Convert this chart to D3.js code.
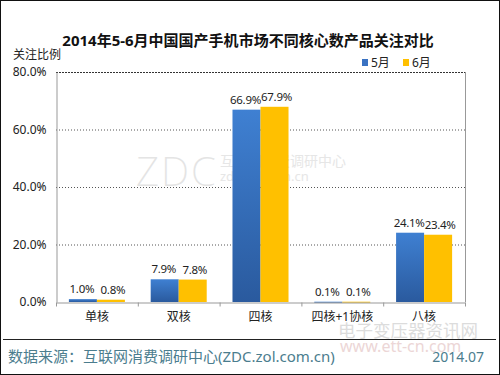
<!DOCTYPE html>
<html lang="zh">
<head>
<meta charset="UTF-8">
<title>2014年5-6月中国国产手机市场不同核心数产品关注对比</title>
<script src="https://d3js.org/d3.v7.min.js"></script>
<style>
  body { margin: 0; background: #fff; }
  svg text { font-family: "Noto Sans", "Noto Sans CJK SC", sans-serif; }
</style>
</head>
<body>
<svg id="chart" width="500" height="375"></svg>
<script>
  // data
  const categories = ["单核", "双核", "四核", "四核+1协核", "八核"];
  const seriesNames = ["5月", "6月"];
  const may = [1.0, 7.9, 66.9, 0.1, 24.1];
  const june = [0.8, 7.8, 67.9, 0.1, 23.4];
  const yTicks = [0, 20, 40, 60, 80];

  const colors = { "5月": "#3a72c2", "6月": "#ffc000" };
  const plot = { left: 56, right: 465, top: 72, bottom: 302 };

  const svg = d3.select("#chart");
  const defs = svg.append("defs");
  const grad = defs.append("linearGradient")
    .attr("id", "blueGrad").attr("x1", 0).attr("y1", 0).attr("x2", 0).attr("y2", 1);
  grad.append("stop").attr("offset", "0%").attr("stop-color", "#3f80d2");
  grad.append("stop").attr("offset", "100%").attr("stop-color", "#2a5a9e");

  // outer frame
  svg.append("rect")
    .attr("x", 0.5).attr("y", 0.5).attr("width", 499).attr("height", 374)
    .attr("fill", "#fff").attr("stroke", "#111");

  const x0 = d3.scaleBand().domain(categories).range([plot.left, plot.right]).padding(0);
  const x1 = d3.scaleBand().domain(seriesNames).range([0, x0.bandwidth()])
    .paddingInner(0).paddingOuter(0.46);
  const y = d3.scaleLinear().domain([0, 80]).range([plot.bottom, plot.top]);

  // watermarks
  svg.append("text").attr("x", 136).attr("y", 186)
    .attr("font-size", 40).attr("font-weight", 200).attr("fill", "#e4e4e4")
    .attr("font-family", "DejaVu Sans").attr("letter-spacing", 2).text("ZDC");
  svg.append("text").attr("x", 220).attr("y", 166)
    .attr("font-size", 14).attr("fill", "#e6e6e6").text("互联网消费调研中心");
  svg.append("text").attr("x", 220).attr("y", 181)
    .attr("font-size", 13).attr("fill", "#e6e6e6").text("zdc.zol.com.cn");

  // grid lines
  svg.append("g").selectAll("line")
    .data(yTicks.filter(d => d > 0 && d < 80))
    .join("line")
    .attr("x1", plot.left).attr("x2", plot.right)
    .attr("y1", d => y(d) + 0.5).attr("y2", d => y(d) + 0.5)
    .attr("stroke", "#555").attr("stroke-dasharray", "1,2");

  // plot frame: dashed top, gray right
  svg.append("line")
    .attr("x1", plot.left).attr("x2", plot.right)
    .attr("y1", y(80) + 0.5).attr("y2", y(80) + 0.5)
    .attr("stroke", "#333").attr("stroke-dasharray", "2,1");
  svg.append("line")
    .attr("x1", plot.right + 0.5).attr("x2", plot.right + 0.5)
    .attr("y1", plot.top).attr("y2", plot.bottom)
    .attr("stroke", "#999");

  // bars
  const rows = categories.map((c, i) => ({ cat: c, values: [
    { s: "5月", v: may[i] }, { s: "6月", v: june[i] }] }));

  const group = svg.append("g").selectAll("g")
    .data(rows).join("g")
    .attr("transform", d => `translate(${x0(d.cat)},0)`);

  group.selectAll("rect")
    .data(d => d.values).join("rect")
    .attr("x", d => x1(d.s))
    .attr("y", d => y(d.v))
    .attr("width", x1.bandwidth())
    .attr("height", d => Math.max(1, y(0) - y(d.v)))
    .attr("fill", d => d.s === "5月" ? "url(#blueGrad)" : colors[d.s]);

  group.selectAll("text")
    .data(d => d.values).join("text")
    .attr("x", d => x1(d.s) + x1.bandwidth() / 2 + (d.s === "6月" ? 2 : -1))
    .attr("y", d => y(d.v) - 6)
    .attr("text-anchor", "middle")
    .attr("font-size", 11.5).attr("letter-spacing", -0.3).attr("fill", "#222")
    .text(d => d.v.toFixed(1) + "%");

  // y axis
  const yAxis = svg.append("g")
    .attr("transform", `translate(${plot.left + 0.5},0)`)
    .call(d3.axisLeft(y).tickValues(yTicks).tickSize(0).tickPadding(10)
      .tickFormat(d => d.toFixed(1) + "%"));
  yAxis.select(".domain").attr("stroke", "#999");
  yAxis.selectAll("text").attr("font-size", 12).attr("fill", "#222")
    .attr("font-family", "Noto Sans");

  // x axis
  const xAxis = svg.append("g")
    .attr("transform", `translate(0,${plot.bottom + 0.5})`)
    .call(d3.axisBottom(x0).tickSize(0).tickPadding(10));
  xAxis.select(".domain").attr("stroke", "#999");
  xAxis.selectAll("text").attr("font-size", 12).attr("fill", "#222")
    .attr("font-family", "Noto Sans CJK SC");
  xAxis.selectAll(".sep")
    .data(categories.map(c => x0(c)).concat([plot.right]))
    .join("line").attr("class", "sep")
    .attr("x1", d => d + 0.5).attr("x2", d => d + 0.5)
    .attr("y1", 0).attr("y2", 4).attr("stroke", "#999");

  // title
  svg.append("text").attr("x", 248).attr("y", 46)
    .attr("text-anchor", "middle").attr("font-size", 15).attr("font-weight", "bold")
    .attr("fill", "#111").attr("font-family", "Noto Sans CJK SC")
    .text("2014年5-6月中国国产手机市场不同核心数产品关注对比");

  svg.append("text").attr("x", 13).attr("y", 59)
    .attr("font-size", 12).attr("fill", "#222").attr("font-family", "Noto Sans CJK SC")
    .text("关注比例");

  // legend
  const legend = svg.append("g").selectAll("g")
    .data(seriesNames).join("g")
    .attr("transform", (d, i) => `translate(${362 + i * 41},59)`);
  legend.append("rect").attr("width", 6).attr("height", 7)
    .attr("fill", d => colors[d]);
  legend.append("text").attr("x", 9).attr("y", 8)
    .attr("font-size", 12).attr("fill", "#222").attr("font-family", "Noto Sans CJK SC")
    .text(d => d);

  // second watermark
  svg.append("text").attr("x", 338).attr("y", 337)
    .attr("font-size", 17.5).attr("fill", "#dcdcdc").attr("font-family", "Noto Sans CJK SC")
    .text("电子变压器资讯网");
  svg.append("text").attr("x", 340).attr("y", 352)
    .attr("font-size", 16).attr("fill", "#ecd6d6")
    .text("www.ett-cn.com");

  // footer
  svg.append("line").attr("x1", 3).attr("x2", 496)
    .attr("y1", 339.5).attr("y2", 339.5).attr("stroke", "#222");
  svg.append("text").attr("x", 8).attr("y", 362)
    .attr("font-size", 15).attr("fill", "#4b7d8e").attr("font-family", "Noto Sans CJK SC")
    .text("数据来源：互联网消费调研中心(ZDC.zol.com.cn)");
  svg.append("text").attr("x", 484).attr("y", 362)
    .attr("text-anchor", "end").attr("font-size", 14).attr("fill", "#4b7d8e")
    .text("2014.07");
</script>
</body>
</html>
